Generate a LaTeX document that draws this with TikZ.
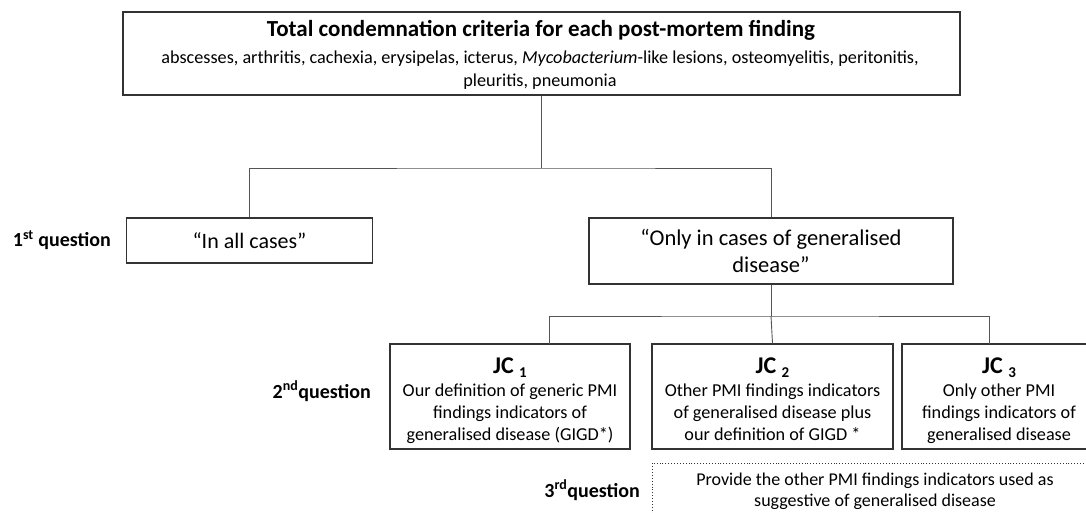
\documentclass[tikz,border=0pt]{standalone}
\usepackage{fontspec}
\setmainfont{Carlito}
\definecolor{boxc}{HTML}{333333}
\definecolor{linec}{HTML}{555555}
\newcommand\jcsub[1]{{\fontsize{15}{15}\selectfont\raisebox{-4.5pt}{#1}}}
\begin{document}
\begin{tikzpicture}[x=1pt,y=-1pt,
  box/.style={draw=boxc, line width=1.3pt, inner sep=0pt, align=center, font=\fontsize{18}{22}\selectfont},
  dotbox/.style={draw=boxc, line width=0.9pt, dotted, inner sep=0pt, align=center, font=\fontsize{18}{21}\selectfont},
  conn/.style={draw=linec, line width=0.9pt},
  qlabel/.style={anchor=east, inner sep=0pt, font=\fontsize{20}{24}\selectfont\bfseries},
  txt/.style={anchor=base, inner sep=0pt, font=\fontsize{18.2}{22}\selectfont},
  jct/.style={anchor=base, inner sep=0pt, font=\fontsize{24}{28}\selectfont\bfseries},
  ttl/.style={anchor=base, inner sep=0pt, font=\fontsize{23}{27}\selectfont\bfseries}
]
\useasboundingbox (0,0) rectangle (1086,513);
\fill[white] (0,0) rectangle (1086,513);

% top box
\node[box, minimum width=837pt, minimum height=83pt] (top) at (541.5,53.5) {};
\node[ttl] (topt) at (541,37) {Total condemnation criteria for each post-mortem finding};
\node[txt] (topa) at (540,64) {abscesses, arthritis, cachexia, erysipelas, icterus, \textit{Mycobacterium}-like lesions, osteomyelitis, peritonitis,};
\node[txt] (topb) at (540,87) {pleuritis, pneumonia};

% first level
\node[box, minimum width=246pt, minimum height=45pt, font=\fontsize{22}{27}\selectfont] (all) at (249.5,240.5) {“In all cases”};
\node[box, minimum width=364pt, minimum height=66pt, font=\fontsize{22.5}{27.5}\selectfont] (only) at (771,251) {“Only in cases of generalised\\ disease”};

\node[qlabel] (q1) at (111,240) {1\textsuperscript{st} question};
\node[qlabel] (q2) at (371,391) {2\textsuperscript{nd}question};
\node[qlabel] (q3) at (640,490) {3\textsuperscript{rd}question};

% JC boxes
\node[box, minimum width=240pt, minimum height=105pt] (jc1) at (510,396.5) {};
\node[jct] (jc1t) at (510,373) {JC \jcsub{1}};
\node[txt] (jc1a) at (510,396) {Our definition of generic PMI};
\node[txt] (jc1b) at (510,418) {findings indicators of};
\node[txt] (jc1c) at (510,440) {generalised disease (GIGD*)};

\node[box, minimum width=241pt, minimum height=105pt] (jc2) at (772.5,396.5) {};
\node[jct] (jc2t) at (772.5,373) {JC \jcsub{2}};
\node[txt] (jc2a) at (772.5,396) {Other PMI findings indicators};
\node[txt] (jc2b) at (772.5,418) {of generalised disease plus};
\node[txt] (jc2c) at (772.5,440) {our definition of GIGD *};

\node[box, minimum width=194pt, minimum height=105pt] (jc3) at (999,396.5) {};
\node[jct] (jc3t) at (999,373) {JC \jcsub{3}};
\node[txt] (jc3a) at (999,396) {Only other PMI};
\node[txt] (jc3b) at (999,418) {findings indicators of};
\node[txt] (jc3c) at (999,440) {generalised disease};

\node[dotbox, minimum width=446pt, minimum height=56pt] (q3box) at (875,491)
  {Provide the other PMI findings indicators used as\\ suggestive of generalised disease};

% connectors
\coordinate (b1) at (541.5,168);
\draw[conn] (top.south) -- (b1);
\draw[conn] (all.north) |- (b1) -| (only.north);
\coordinate (b2) at (771,316);
\draw[conn] (only.south) -- (b2);
\coordinate (j1) at (549,344);
\coordinate (j3) at (989,344);
\draw[conn] (j1) |- (b2) -| (j3);
\draw[conn] (b2) -- (jc2.north);
\end{tikzpicture}
\end{document}
